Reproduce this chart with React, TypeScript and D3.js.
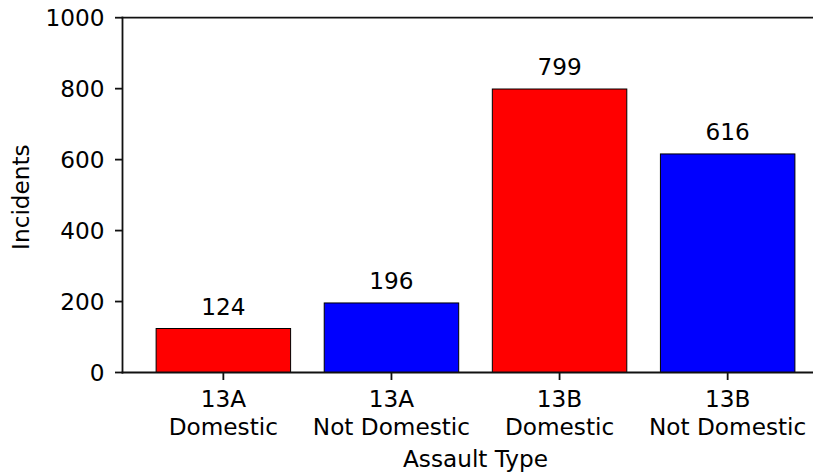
import React from "react";
import * as d3 from "d3";

const categories = ["13A\nDomestic", "13A\nNot Domestic", "13B\nDomestic", "13B\nNot Domestic"];
const values = [124, 196, 799, 616];
const barColors = ["#ff0000", "#0000ff", "#ff0000", "#0000ff"];
const yTicks = [0, 200, 400, 600, 800, 1000];

const W = 813;
const H = 473;
const FONT = "'DejaVu Sans', sans-serif";
const FS = 23.2;

export default function App() {
  const left = 122.5;
  const step = 168.1;
  const right = left + 4.2 * step;
  const top = 17.7;
  const bottom = 372.5;

  const x = d3
    .scaleBand<string>()
    .domain(categories)
    .range([left, right])
    .paddingInner(0.2)
    .paddingOuter(0.2);
  const bw = x.bandwidth();
  const xCenter = (c: string) => (x(c) as number) + bw / 2;
  const y = d3.scaleLinear().domain([0, 1000]).range([bottom, top]);

  return (
    <svg width={W} height={H} style={{ position: "absolute", left: 0, top: 0, background: "#fff" }} fontFamily={FONT}>
      <rect x={0} y={0} width={W} height={H} fill="#fff" />
      {values.map((v, i) => (
        <g key={i}>
          <rect
            x={x(categories[i])}
            y={y(v)}
            width={bw}
            height={y(0) - y(v)}
            fill={barColors[i]}
            stroke="#000"
            strokeWidth={1}
          />
          <text x={xCenter(categories[i])} y={y(v) - 14} textAnchor="middle" fontSize={FS} fill="#000">
            {v}
          </text>
        </g>
      ))}
      {/* spines */}
      <line x1={left} x2={left} y1={top} y2={bottom} stroke="#111" strokeWidth={1.8} strokeLinecap="square" />
      <line x1={left} x2={right} y1={bottom} y2={bottom} stroke="#111" strokeWidth={1.8} strokeLinecap="square" />
      <line x1={left} x2={right} y1={top} y2={top} stroke="#111" strokeWidth={1.8} strokeLinecap="square" />
      <line x1={right} x2={right} y1={top} y2={bottom} stroke="#111" strokeWidth={1.8} />
      {/* y ticks */}
      {yTicks.map((t) => (
        <g key={t}>
          <line x1={left - 7.5} x2={left} y1={y(t)} y2={y(t)} stroke="#111" strokeWidth={1.8} />
          <text x={left - 18} y={y(t) + 8.3} textAnchor="end" fontSize={FS} fill="#000">
            {t}
          </text>
        </g>
      ))}
      {/* x ticks */}
      {categories.map((c) => (
        <g key={c}>
          <line x1={xCenter(c)} x2={xCenter(c)} y1={bottom} y2={bottom + 7.5} stroke="#111" strokeWidth={1.8} />
          {c.split("\n").map((line, j) => (
            <text key={j} x={xCenter(c)} y={406.5 + j * 28} textAnchor="middle" fontSize={FS} fill="#000">
              {line}
            </text>
          ))}
        </g>
      ))}
      <text x={(left + right) / 2} y={467} textAnchor="middle" fontSize={FS} fill="#000">
        Assault Type
      </text>
      <text
        transform={`translate(${29},${(top + bottom) / 2 + 2}) rotate(-90)`}
        textAnchor="middle"
        fontSize={FS}
        fill="#000"
      >
        Incidents
      </text>
    </svg>
  );
}
